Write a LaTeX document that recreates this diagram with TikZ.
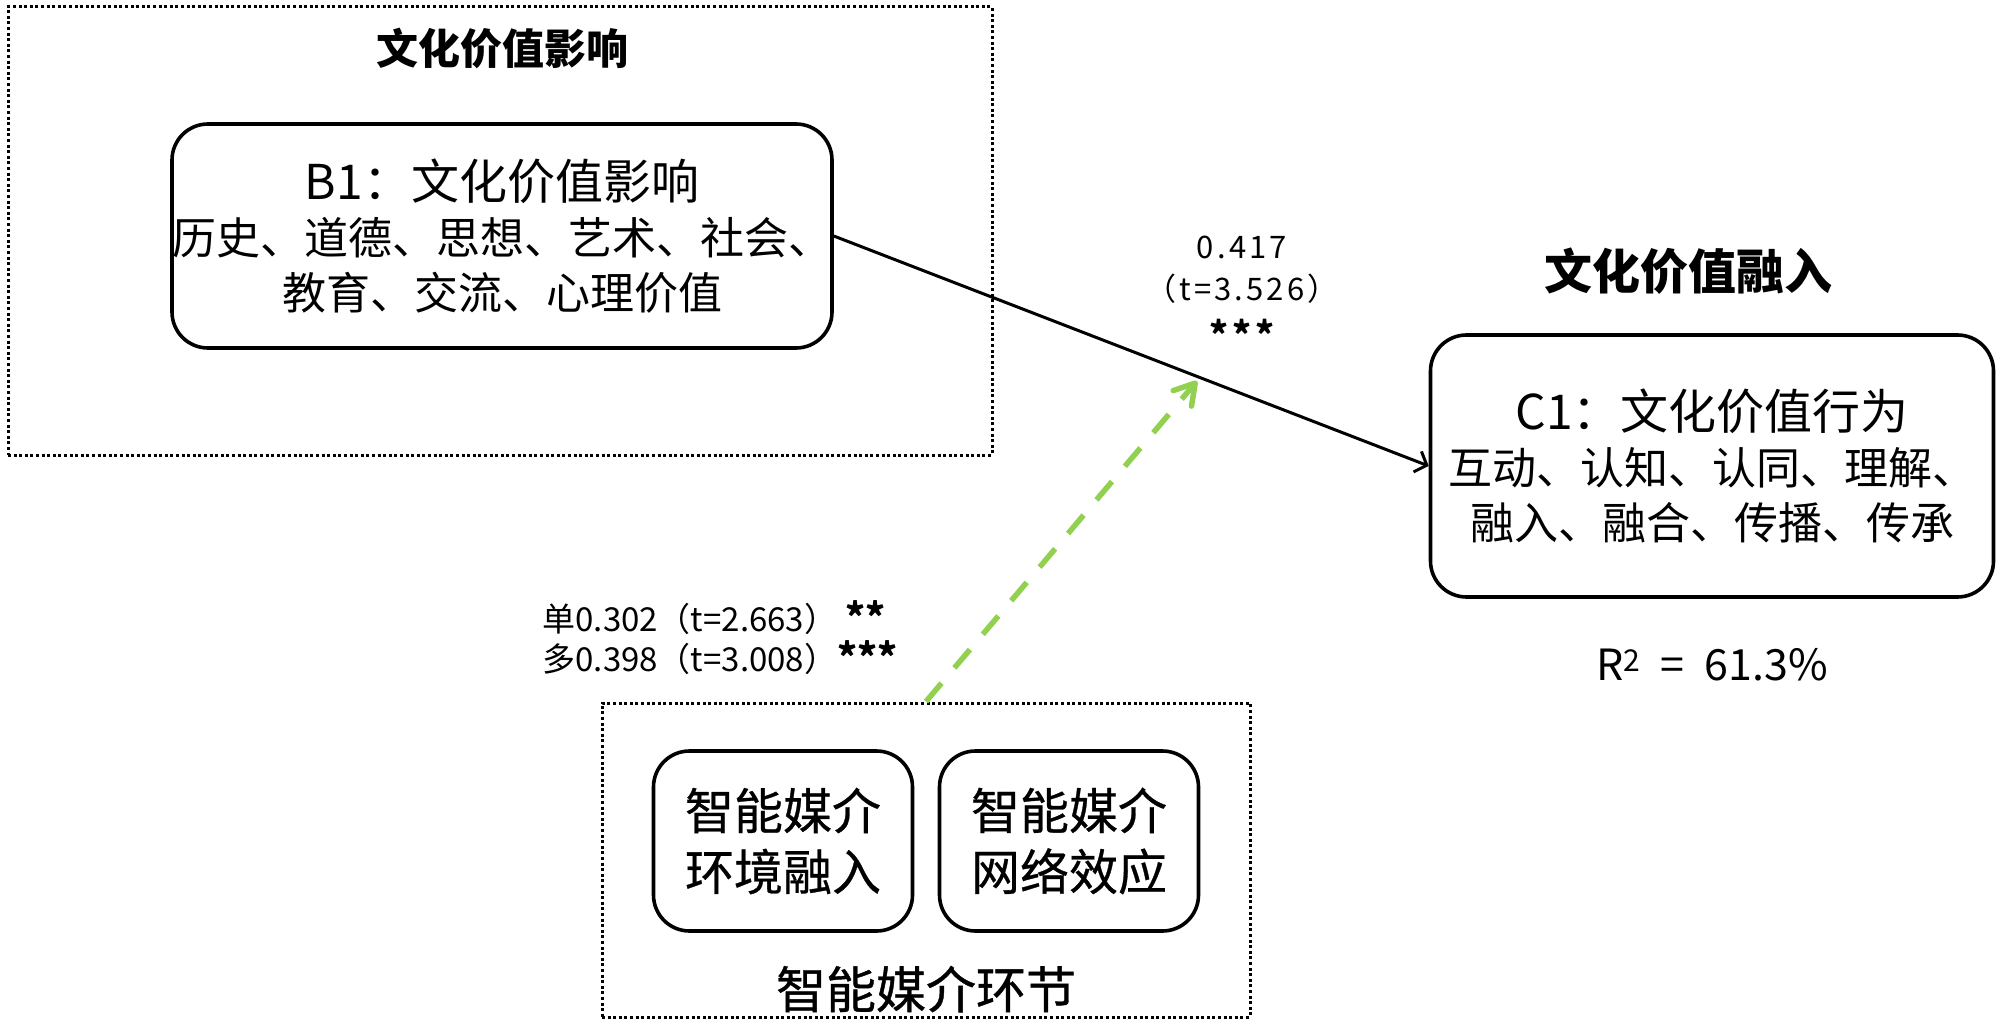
\documentclass[tikz,border=0pt]{standalone}
\usepackage{fontspec}
\setmainfont{Noto Sans CJK SC}
\usepackage{xcolor}
\usetikzlibrary{positioning,arrows.meta}
\definecolor{verdeclaro}{HTML}{92D050}

\begin{document}
\begin{tikzpicture}[
  x=1pt, y=-1pt,
  caja/.style={draw, rounded corners=36pt, line width=3.6pt, align=center, inner sep=0pt},
  cuerpo/.style={font=\fontsize{44}{55}\selectfont},
  interno/.style={caja, minimum width=259pt, minimum height=180pt, font=\fontsize{49}{61}\selectfont\addfontfeature{FakeBold=0.6}},
  marco/.style={draw, line width=3pt, dash pattern=on 3pt off 2.6pt, inner sep=0pt},
  titulo/.style={font=\fontsize{42}{48}\selectfont\bfseries, inner sep=0pt},
  flecha/.style={-{Straight Barb[length=10pt, width=22pt]}, line width=3pt},
  modera/.style={-{Straight Barb[length=20pt, width=24pt, round]}, line width=5.5pt, verdeclaro, dash pattern=on 24pt off 20pt},
  etq/.style={font=\fontsize{31}{42}\selectfont\addfontfeature{LetterSpace=10}, align=center, inner sep=0pt},
  etqm/.style={font=\fontsize{33}{40}\selectfont, text=black, align=left, inner sep=0pt}
]
\useasboundingbox (0,0) rectangle (2000,1024);

\node[marco, minimum width=984pt, minimum height=448pt] (marcob) at (500,231) {};
\node[caja, cuerpo, minimum width=660pt, minimum height=224pt] (b1) at (502,236)
  {{\fontsize{48}{55}\selectfont B1：文化价值影响}\\历史、道德、思想、艺术、社会、\\教育、交流、心理价值};
\node[titulo, above=53pt of b1] (titb) {文化价值影响};

\node[caja, cuerpo, minimum width=563pt, minimum height=262pt] (c1) at (1712,466)
  {{\fontsize{48}{55}\selectfont C1：文化价值行为}\\互动、认知、认同、理解、\\融入、融合、传播、传承};
\node[titulo, font=\fontsize{48}{54}\selectfont\bfseries, above=39pt of c1, xshift=-24pt] (titc) {文化价值融入};
\node[inner sep=0pt, font=\fontsize{43}{50}\selectfont, below=49pt of c1] (r2) {R\textsuperscript{2}\hspace{20pt}=\hspace{20pt}61.3\%};

\node[marco, minimum width=648pt, minimum height=314pt] (medio) at (926,860) {};
\node[interno] (env) at (783,841) {智能媒介\\环境融入};
\node[interno, right=23.4pt of env] (red) {智能媒介\\网络效应};
\node[inner sep=0pt, font=\fontsize{50}{56}\selectfont\addfontfeature{FakeBold=0.8}, above=6pt of medio.south] (titm) {智能媒介环节};

\coordinate (mod) at (1197,381);

\draw[flecha] (b1.east) -- node[etq, pos=0.686, above=44pt] {0.417\\（t=3.526）\\[6pt]{\fontsize{36}{42}\selectfont\bfseries ***}} (c1.west);
\draw[modera] (medio.north) -- node[etqm, pos=0.2, left=80pt] {单0.302（t=2.663）\hspace{8pt}{\fontsize{38}{40}\selectfont\bfseries **}\\多0.398（t=3.008）{\fontsize{38}{40}\selectfont\bfseries ***}} (mod);
\end{tikzpicture}
\end{document}
